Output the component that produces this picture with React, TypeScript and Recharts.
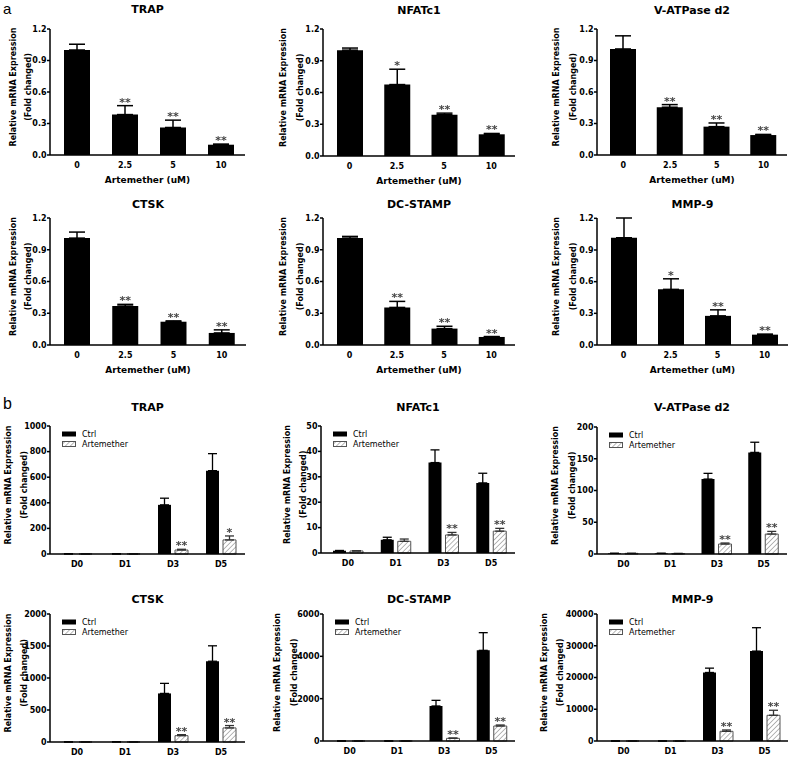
import React from 'react'
import { BarChart, Bar, XAxis, YAxis, ErrorBar, LabelList } from 'recharts'

const FONT = '"DejaVu Sans", Verdana, sans-serif'

const DOSES = ['0', '2.5', '5', '10']
const DAYS = ['D0', 'D1', 'D3', 'D5']
const DOSE_TICKS = [0, 0.3, 0.6, 0.9, 1.2]

// (a) dose response – mean / SD / significance
const trapDose = [1.0, 0.385, 0.262, 0.098]
const trapDoseSd = [0.055, 0.085, 0.07, 0.006]
const nfatDose = [1.0, 0.675, 0.39, 0.205]
const nfatDoseSd = [0.02, 0.145, 0.015, 0.008]
const atpDose = [1.01, 0.455, 0.27, 0.19]
const atpDoseSd = [0.125, 0.025, 0.035, 0.006]
const ctskDose = [1.01, 0.368, 0.22, 0.114]
const ctskDoseSd = [0.057, 0.016, 0.008, 0.029]
const dcDose = [1.01, 0.355, 0.155, 0.076]
const dcDoseSd = [0.016, 0.057, 0.022, 0.004]
const mmpDose = [1.016, 0.527, 0.276, 0.098]
const mmpDoseSd = [0.187, 0.1, 0.057, 0.005]
const starsAll = ['', '**', '**', '**']
const starsOne = ['', '*', '**', '**']

// (b) time course – Ctrl vs Artemether
const trapCtrl = [1, 1, 384, 651]
const trapCtrlSd = [0, 0, 52, 133]
const trapArt = [1, 1, 31, 110]
const trapArtSd = [0, 0, 6, 31]
const nfatCtrl = [0.9, 5.2, 35.6, 27.6]
const nfatCtrlSd = [0.1, 1.0, 5.0, 3.8]
const nfatArt = [0.8, 4.6, 7.1, 8.6]
const nfatArtSd = [0.1, 0.9, 1.0, 1.1]
const atpCtrl = [1, 1, 118, 160]
const atpCtrlSd = [0, 0, 9, 16]
const atpArt = [1, 0.8, 15.7, 31.4]
const atpArtSd = [0, 0, 1.6, 4.2]
const ctskCtrl = [1, 2, 759, 1262]
const ctskCtrlSd = [0, 0, 157, 241]
const ctskArt = [1, 1, 99, 220]
const ctskArtSd = [0, 0, 16, 37]
const dcCtrl = [1, 1, 1654, 4283]
const dcCtrlSd = [0, 0, 267, 835]
const dcArt = [1, 1, 126, 709]
const dcArtSd = [0, 0, 15, 47]
const mmpCtrl = [1, 1, 21579, 28316]
const mmpCtrlSd = [0, 0, 1368, 7368]
const mmpArt = [1, 1, 3050, 8100]
const mmpArtSd = [0, 0, 420, 1580]
const artStars = ['', '', '**', '**']
const artStarsTrap = ['', '', '**', '*']

const W_AX = 60

type Geo = { ax: number; right: number; top: number; bottom: number; lab: number[]; titleDy: number }

const yLabel = (g: Geo) => () => {
  const cy = 10 + (g.bottom - g.top) / 2 - 5
  const x1 = W_AX + g.lab[0]
  const x2 = W_AX + g.lab[1]
  const st = { fontFamily: FONT, fontSize: 8, fontWeight: 'bold' as const, fill: '#000' }
  return (
    <g>
      <text x={x1} y={cy} transform={`rotate(-90, ${x1}, ${cy})`} textAnchor="middle" dominantBaseline="central" {...st}>
        Relative mRNA Expression
      </text>
      <text x={x2} y={cy} transform={`rotate(-90, ${x2}, ${cy})`} textAnchor="middle" dominantBaseline="central" {...st}>
        (Fold changed)
      </text>
    </g>
  )
}

const starLabel = (vals: number[], sds: number[]) => (p: any) => {
  const vb = p.viewBox ?? p
  const i = p.index
  if (!p.value || i == null) return null
  const top = vb.y - (sds[i] * vb.height) / vals[i]
  return (
    <text x={vb.x + vb.width / 2} y={top} textAnchor="middle" fontFamily={FONT} fontSize={11}
      fontWeight="bold" fill="#444" style={{ filter: 'grayscale(1)' }}>
      {p.value}
    </text>
  )
}

const tickStyle = { fill: '#000', fontSize: 8, fontWeight: 'bold', fontFamily: FONT }
const axisStyle = { stroke: '#000', strokeWidth: 1.5 }

function Title({ g, text }: { g: Geo; text: string }) {
  return (
    <div style={{
      position: 'absolute', left: g.ax, width: g.right - g.ax, top: g.top - g.titleDy - 7,
      textAlign: 'center', fontFamily: FONT, fontWeight: 'bold', fontSize: 11, lineHeight: '14px',
    }}>{text}</div>
  )
}

function Hatch({ id }: { id: string }) {
  return (
    <defs>
      <pattern id={id} width={3.5} height={3.5} patternUnits="userSpaceOnUse" patternTransform="rotate(45)">
        <rect width={3.5} height={3.5} fill="#fff" />
        <line x1={0} y1={0} x2={0} y2={3.5} stroke="#999" strokeWidth={1.4} />
      </pattern>
    </defs>
  )
}

function DosePanel({ title, vals, sds, stars, g }: { title: string; vals: number[]; sds: number[]; stars: string[]; g: Geo }) {
  const data = DOSES.map((d, i) => ({ dose: d, v: vals[i], sd: [0, sds[i]], star: stars[i] }))
  const plotW = g.right - g.ax
  const plotH = g.bottom - g.top
  return (
    <>
      <Title g={g} text={title} />
      <div style={{ position: 'absolute', left: g.ax - W_AX, top: g.top - 10 }}>
        <BarChart width={W_AX + plotW + 4} height={10 + plotH + 20} data={data}
          margin={{ top: 10, right: 4, bottom: 0, left: 0 }} barSize={26}>
          <XAxis dataKey="dose" height={20} tick={tickStyle} axisLine={axisStyle} tickLine={false}
            tickSize={4} tickMargin={3} padding={{ left: 3, right: 0 }} />
          <YAxis width={W_AX} domain={[0, 1.2]} ticks={DOSE_TICKS} tick={tickStyle} axisLine={axisStyle}
            tickLine={axisStyle} tickSize={3} tickMargin={0.5} tickFormatter={(v: number) => v.toFixed(1)}
            label={yLabel(g)} />
          <Bar dataKey="v" fill="#000" isAnimationActive={false}>
            <ErrorBar dataKey="sd" width={8} stroke="#000" strokeWidth={1.5} isAnimationActive={false} />
            <LabelList dataKey="star" content={starLabel(vals, sds)} />
          </Bar>
        </BarChart>
      </div>
      <div style={{
        position: 'absolute', left: g.ax, width: plotW, top: g.bottom + 19,
        textAlign: 'center', fontFamily: FONT, fontWeight: 'bold', fontSize: 9, lineHeight: '13px',
      }}>Artemether (uM)</div>
    </>
  )
}

function DayPanel({ title, ctrl, ctrlSd, art, artSd, stars, ticks, g, id }: {
  title: string; ctrl: number[]; ctrlSd: number[]; art: number[]; artSd: number[]
  stars: string[]; ticks: number[]; g: Geo; id: string
}) {
  const data = DAYS.map((d, i) => ({
    day: d, c: ctrl[i], cSd: [0, ctrlSd[i]], a: art[i], aSd: [0, artSd[i]], star: stars[i],
  }))
  const plotW = g.right - g.ax
  const plotH = g.bottom - g.top
  const max = ticks[ticks.length - 1]
  return (
    <>
      <Title g={g} text={title} />
      <div style={{ position: 'absolute', left: g.ax - W_AX, top: g.top - 10 }}>
        <BarChart width={W_AX + plotW + 4} height={10 + plotH + 20} data={data}
          margin={{ top: 10, right: 4, bottom: 0, left: 0 }} barSize={13} barGap={4}>
          <Hatch id={id} />
          <XAxis dataKey="day" height={20} tick={tickStyle} axisLine={axisStyle} tickLine={false}
            tickSize={4} tickMargin={3} padding={{ left: 3, right: 0 }} />
          <YAxis width={W_AX} domain={[0, max]} ticks={ticks} tick={tickStyle} axisLine={axisStyle}
            tickLine={axisStyle} tickSize={3} tickMargin={0.5} label={yLabel(g)} />
          <Bar dataKey="c" fill="#000" isAnimationActive={false}>
            <ErrorBar dataKey="cSd" width={4.5} stroke="#000" strokeWidth={1.3} isAnimationActive={false} />
          </Bar>
          <Bar dataKey="a" fill={`url(#${id})`} stroke="#555" strokeWidth={1} isAnimationActive={false}>
            <ErrorBar dataKey="aSd" width={4.5} stroke="#333" strokeWidth={1.3} isAnimationActive={false} />
            <LabelList dataKey="star" content={starLabel(art, artSd)} />
          </Bar>
        </BarChart>
      </div>
      <svg width={90} height={22} style={{ position: 'absolute', left: g.ax + 12, top: g.top + 3 }}>
        <Hatch id={`${id}-lg`} />
        <rect x={0} y={2.5} width={14} height={5} fill="#000" />
        <text x={20} y={5} dominantBaseline="central" fontFamily={FONT} fontSize={8} fill="#000">Ctrl</text>
        <rect x={0.5} y={12.5} width={13} height={5} fill={`url(#${id}-lg)`} stroke="#555" strokeWidth={1} />
        <text x={20} y={15} dominantBaseline="central" fontFamily={FONT} fontSize={8} fill="#000">Artemether</text>
      </svg>
    </>
  )
}

const GA: Geo[] = [
  { ax: 50, right: 245, top: 29, bottom: 155, lab: [-37, -22], titleDy: 19 },
  { ax: 323, right: 515, top: 29, bottom: 156, lab: [-40, -23], titleDy: 18 },
  { ax: 597, right: 787, top: 29, bottom: 155, lab: [-41, -24], titleDy: 18 },
  { ax: 50, right: 246, top: 218, bottom: 345, lab: [-37, -22], titleDy: 13 },
  { ax: 323, right: 515, top: 218, bottom: 345, lab: [-40, -23], titleDy: 13 },
  { ax: 597, right: 788, top: 218, bottom: 345, lab: [-41, -24], titleDy: 13 },
]

const GB: Geo[] = [
  { ax: 50, right: 245, top: 426, bottom: 554, lab: [-42, -26], titleDy: 18 },
  { ax: 321, right: 515, top: 426, bottom: 553, lab: [-34, -18], titleDy: 18 },
  { ax: 597, right: 787, top: 427, bottom: 554, lab: [-42, -25], titleDy: 19 },
  { ax: 50, right: 245, top: 614, bottom: 742, lab: [-42, -26], titleDy: 14 },
  { ax: 323, right: 515, top: 614, bottom: 741, lab: [-46, -29], titleDy: 14 },
  { ax: 597, right: 788, top: 614, bottom: 741, lab: [-53, -37], titleDy: 14 },
]

export default function App() {
  return (
    <div style={{ position: 'absolute', left: 0, top: 0, width: 790, height: 757, background: '#fff', overflow: 'hidden' }}>
      <div style={{ position: 'absolute', left: 3, top: 0, fontFamily: '"Liberation Sans", Arial, sans-serif', fontSize: 15 }}>a</div>
      <div style={{ position: 'absolute', left: 3, top: 395, fontFamily: '"Liberation Sans", Arial, sans-serif', fontSize: 16 }}>b</div>

      <DosePanel title="TRAP" vals={trapDose} sds={trapDoseSd} stars={starsAll} g={GA[0]} />
      <DosePanel title="NFATc1" vals={nfatDose} sds={nfatDoseSd} stars={starsOne} g={GA[1]} />
      <DosePanel title="V-ATPase d2" vals={atpDose} sds={atpDoseSd} stars={starsAll} g={GA[2]} />
      <DosePanel title="CTSK" vals={ctskDose} sds={ctskDoseSd} stars={starsAll} g={GA[3]} />
      <DosePanel title="DC-STAMP" vals={dcDose} sds={dcDoseSd} stars={starsAll} g={GA[4]} />
      <DosePanel title="MMP-9" vals={mmpDose} sds={mmpDoseSd} stars={starsOne} g={GA[5]} />

      <DayPanel id="h1" title="TRAP" ctrl={trapCtrl} ctrlSd={trapCtrlSd} art={trapArt} artSd={trapArtSd}
        stars={artStarsTrap} ticks={[0, 200, 400, 600, 800, 1000]} g={GB[0]} />
      <DayPanel id="h2" title="NFATc1" ctrl={nfatCtrl} ctrlSd={nfatCtrlSd} art={nfatArt} artSd={nfatArtSd}
        stars={artStars} ticks={[0, 10, 20, 30, 40, 50]} g={GB[1]} />
      <DayPanel id="h3" title="V-ATPase d2" ctrl={atpCtrl} ctrlSd={atpCtrlSd} art={atpArt} artSd={atpArtSd}
        stars={artStars} ticks={[0, 50, 100, 150, 200]} g={GB[2]} />
      <DayPanel id="h4" title="CTSK" ctrl={ctskCtrl} ctrlSd={ctskCtrlSd} art={ctskArt} artSd={ctskArtSd}
        stars={artStars} ticks={[0, 500, 1000, 1500, 2000]} g={GB[3]} />
      <DayPanel id="h5" title="DC-STAMP" ctrl={dcCtrl} ctrlSd={dcCtrlSd} art={dcArt} artSd={dcArtSd}
        stars={artStars} ticks={[0, 2000, 4000, 6000]} g={GB[4]} />
      <DayPanel id="h6" title="MMP-9" ctrl={mmpCtrl} ctrlSd={mmpCtrlSd} art={mmpArt} artSd={mmpArtSd}
        stars={artStars} ticks={[0, 10000, 20000, 30000, 40000]} g={GB[5]} />
    </div>
  )
}
